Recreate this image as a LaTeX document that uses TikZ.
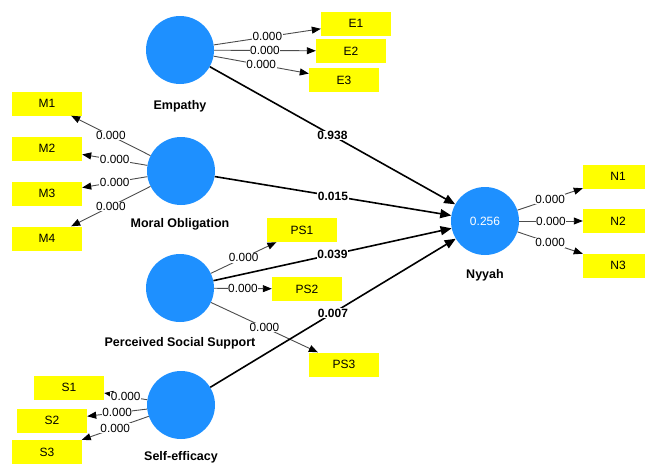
\documentclass[tikz,border=0pt]{standalone}
\usepackage{fontspec}
\setmainfont{Liberation Sans}
\usetikzlibrary{arrows.meta}
\definecolor{lvblue}{HTML}{1E90FF}
\definecolor{indyellow}{HTML}{FFFF00}
\begin{document}
\begin{tikzpicture}[x=1pt,y=-1pt,
  lv/.style={circle,fill=lvblue,minimum size=68pt,inner sep=0pt,draw=none,text=white,font=\fontsize{12}{14}\selectfont},
  mv/.style={rectangle,fill=indyellow,minimum width=70pt,minimum height=24pt,inner sep=0pt,font=\fontsize{12}{14}\selectfont},
  lvname/.style={font=\bfseries\fontsize{12.5}{14}\selectfont},
  loadarrow/.style={draw=black!70,line width=0.9pt,-{Triangle[length=9pt,width=7pt,color=black]}},
  loadlbl/.style={fill=white,inner sep=0.6pt,font=\fontsize{11.8}{14}\selectfont},
  structarrow/.style={draw=black,line width=1.6pt,-{Triangle[length=11pt,width=9pt]}},
  structlbl/.style={fill=white,inner sep=0.6pt,font=\bfseries\fontsize{12}{14}\selectfont}]
\useasboundingbox (0,0) rectangle (645,464);
\clip (0,0) rectangle (645,464);

% latent variables
\node[lv] (emp) at (180,50) {};
\node[lvname] (empl) at (180,106) {Empathy};
\node[lv] (mo) at (181,171) {};
\node[lvname] (mol) at (180,224) {Moral Obligation};
\node[lv] (pss) at (180,288) {};
\node[lvname] (pssl) at (180,343) {Perceived Social Support};
\node[lv] (se) at (181,405) {};
\node[lvname] (sel) at (181,457) {Self-efficacy};
\node[lv] (ny) at (485,221) {0.256};
\node[lvname] (nyl) at (485,275) {Nyyah};

% indicators
\node[mv] (e1) at (356,23.5) {E1};
\node[mv] (e2) at (351,51) {E2};
\node[mv] (e3) at (344,80) {E3};
\node[mv] (m1) at (47,103.5) {M1};
\node[mv] (m2) at (47,148.5) {M2};
\node[mv] (m3) at (47,193.5) {M3};
\node[mv] (m4) at (47,238.5) {M4};
\node[mv] (ps1) at (302,230) {PS1};
\node[mv] (ps2) at (307,289) {PS2};
\node[mv] (ps3) at (344,364.5) {PS3};
\node[mv] (s1) at (69,387.5) {S1};
\node[mv] (s2) at (52,420.5) {S2};
\node[mv] (s3) at (47,452) {S3};
\node[mv] (n1) at (618,176.5) {N1};
\node[mv] (n2) at (618,221) {N2};
\node[mv] (n3) at (618,265.5) {N3};

% outer loadings
\foreach \a/\b in {emp/e1,emp/e2,emp/e3,mo/m1,mo/m2,mo/m3,mo/m4,pss/ps1,pss/ps2,pss/ps3,se/s1,se/s2,se/s3,ny/n1,ny/n2,ny/n3}
  \draw[loadarrow] (\a) -- node[loadlbl]{0.000} (\b);

% structural paths
\draw[structarrow] (emp) -- node[structlbl]{0.938} (ny);
\draw[structarrow] (mo) -- node[structlbl]{0.015} (ny);
\draw[structarrow] (pss) -- node[structlbl]{0.039} (ny);
\draw[structarrow] (se) -- node[structlbl]{0.007} (ny);
\end{tikzpicture}
\end{document}
